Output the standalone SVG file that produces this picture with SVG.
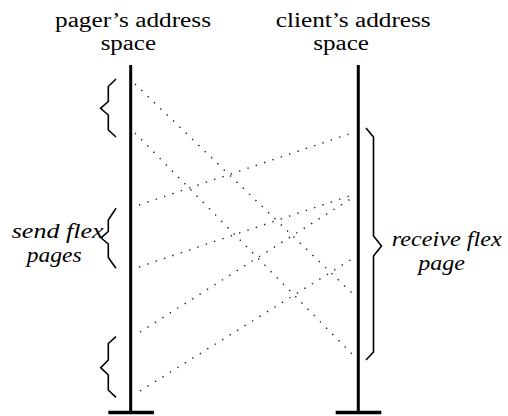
<svg xmlns="http://www.w3.org/2000/svg" width="508" height="416" viewBox="0 0 508 416">
  <style>
    .title { font-family: 'Liberation Serif', 'Times New Roman', Times, serif; font-size: 20px; fill: #000; }
    .label { font-family: 'Liberation Serif', 'Times New Roman', Times, serif; font-size: 21px; font-style: italic; fill: #000; }
    .axis { stroke: #000; stroke-width: 3; fill: none; }
    .base { stroke: #000; stroke-width: 3.5; fill: none; }
    .brace { stroke: #000; stroke-width: 1.6; fill: none; stroke-linejoin: miter; }
    .map { stroke: #222; stroke-width: 1.4; stroke-dasharray: 1.4 7.4; fill: none; }
  </style>
  <rect width="508" height="416" fill="#fff"/>

  <!-- pager's address space -->
  <g id="pager">
    <text class="title" x="55" y="27" textLength="156" lengthAdjust="spacingAndGlyphs">pager’s address</text>
    <text class="title" x="100.7" y="49.5" textLength="55.3" lengthAdjust="spacingAndGlyphs">space</text>
    <line class="axis" x1="130.7" y1="65" x2="130.7" y2="411"/>
    <line class="base" x1="108.3" y1="412.5" x2="154" y2="412.5"/>
  </g>

  <!-- client's address space -->
  <g id="client">
    <text class="title" x="275.7" y="27" textLength="155" lengthAdjust="spacingAndGlyphs">client’s address</text>
    <text class="title" x="313.3" y="49.5" textLength="55.7" lengthAdjust="spacingAndGlyphs">space</text>
    <line class="axis" x1="358.3" y1="65" x2="358.3" y2="411"/>
    <line class="base" x1="335.7" y1="412.5" x2="381.3" y2="412.5"/>
  </g>

  <!-- flex pages on the pager side -->
  <g id="pager-flex-1">
    <polyline class="brace" points="116,79 108.3,86.5 108.3,101.5 100.5,108.3 108.3,115 108.3,130 116,137"/>
  </g>
  <g id="pager-flex-2">
    <polyline class="brace" points="116,208.3 108.3,220 108.3,231.5 101,237.8 108.3,244 108.3,257.5 116,268.3"/>
    <text class="label" x="11.7" y="238" textLength="92" lengthAdjust="spacingAndGlyphs">send flex</text>
    <text class="label" x="26.7" y="261.5" textLength="55" lengthAdjust="spacingAndGlyphs">pages</text>
  </g>
  <g id="pager-flex-3">
    <polyline class="brace" points="116,336.7 108.3,343.5 108.3,360 100.7,367.7 108.3,375 108.3,390 116,397.3"/>
  </g>

  <!-- flex page on the client side -->
  <g id="client-flex">
    <polyline class="brace" points="366,128 373.5,137 373.5,236 381.5,246 373.5,256 373.5,352 366,360"/>
    <text class="label" x="391.7" y="246" textLength="110" lengthAdjust="spacingAndGlyphs">receive flex</text>
    <text class="label" x="418.3" y="269.5" textLength="46.7" lengthAdjust="spacingAndGlyphs">page</text>
  </g>

  <!-- page mappings -->
  <g id="connectors">
    <line class="map" x1="135" y1="84" x2="352" y2="293"/>
    <line class="map" x1="135" y1="133" x2="352" y2="354"/>
    <line class="map" x1="139" y1="205" x2="352" y2="133"/>
    <line class="map" x1="139" y1="267" x2="352" y2="195"/>
    <line class="map" x1="140" y1="332" x2="352" y2="198"/>
    <line class="map" x1="140" y1="391" x2="352" y2="259"/>
  </g>
</svg>
